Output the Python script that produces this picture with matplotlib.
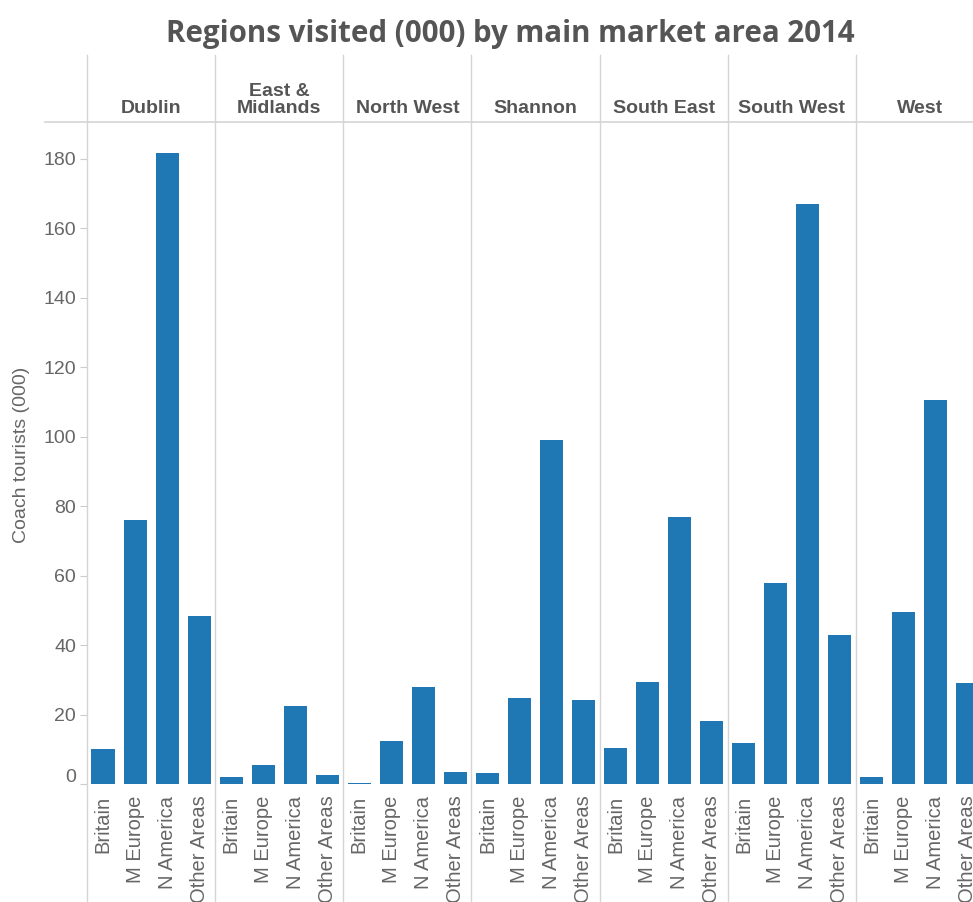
import matplotlib
matplotlib.use("Agg")
import matplotlib.pyplot as plt
import matplotlib.transforms as mtransforms
from matplotlib.lines import Line2D
import numpy as np

# ---- data ----
regions = ['Dublin', 'East &\nMidlands', 'North West', 'Shannon',
           'South East', 'South West', 'West']
markets = ['Britain', 'M Europe', 'N America', 'Other Areas']
dublin = [10, 76, 181.5, 48.5]
east_midlands = [2, 5.5, 22.5, 2.7]
north_west = [0.4, 12.4, 28, 3.5]
shannon = [3.2, 24.8, 99, 24.2]
south_east = [10.3, 29.4, 76.8, 18.3]
south_west = [11.8, 57.9, 166.8, 42.9]
west = [2, 49.5, 110.4, 29]
values = [dublin, east_midlands, north_west, shannon, south_east, south_west, west]
yticks = [0, 20, 40, 60, 80, 100, 120, 140, 160, 180]

title = 'Regions visited (000) by main market area 2014'
ylabel = 'Coach tourists (000)'

# ---- style ----
plt.rcParams['font.family'] = ['Liberation Sans', 'DejaVu Sans']
W, H = 973, 902
fig = plt.figure(figsize=(W / 100, H / 100), dpi=100)
BLUE = '#1f77b4'
GRID = '#d4d4d4'
TXT = '#666666'
HDR = '#555555'

left_px, right_px, top_px, bot_px = 87, 984, 122, 786
ax = fig.add_axes([left_px / W, 1 - bot_px / H, (right_px - left_px) / W, (bot_px - top_px) / H])

n_m = len(markets)
xs, hs, labels = [], [], []
for i, vals in enumerate(values):
    for j, v in enumerate(vals):
        xs.append(i * n_m + j + 0.5)
        hs.append(v)
        labels.append(markets[j])
ax.bar(xs, hs, width=0.72, color=BLUE, zorder=3)

ax.set_xlim(0, n_m * len(regions))
ax.set_ylim(-0.5, 190.5)
for s in ax.spines.values():
    s.set_visible(False)

ax.set_yticks(yticks)
ax.set_yticklabels([str(t) for t in yticks])
ax.tick_params(axis='y', length=5, width=0.8, color='#cccccc', labelsize=14,
               labelcolor=TXT, pad=3)
# Tableau-like lifted zero label
for lab in ax.get_yticklabels():
    if lab.get_text() == '0':
        lab.set_transform(lab.get_transform() + mtransforms.ScaledTranslation(0, 9 / 100, fig.dpi_scale_trans))

ax.set_xticks(xs)
ax.set_xticklabels(labels, rotation=90, fontsize=14.5, color=TXT)
ax.tick_params(axis='x', length=0, pad=7)

# panel separators
blend = mtransforms.blended_transform_factory(ax.transData, fig.transFigure)
for i in range(len(regions) + 1):
    x = i * n_m
    fig.add_artist(Line2D([x, x], [1 - 55 / H, 0], transform=blend, color=GRID, lw=1, zorder=1))
# header line
fig.add_artist(Line2D([45 / W, 1], [1 - top_px / H, 1 - top_px / H], transform=fig.transFigure,
                      color=GRID, lw=1.2))

# headers
for i, r in enumerate(regions):
    ax.text(i * n_m + n_m / 2, 1 - 117 / H, r, transform=blend, ha='center', va='bottom',
            fontsize=14, fontweight='bold', color=HDR, linespacing=1.0)

# y label
fig.text(22 / W, 1 - 455 / H, ylabel, rotation=90, ha='center', va='center',
         fontsize=14, color=TXT)

# title
t = fig.text(510 / W, 1 - 34 / H, title, ha='center', va='center', fontsize=20,
             fontweight='bold', color=HDR, family=['Open Sans', 'DejaVu Sans'])
fig.canvas.draw()
w = t.get_window_extent().width
t.set_fontsize(20 * 690 / w)

fig.savefig('out.png', dpi=100, facecolor='white')
